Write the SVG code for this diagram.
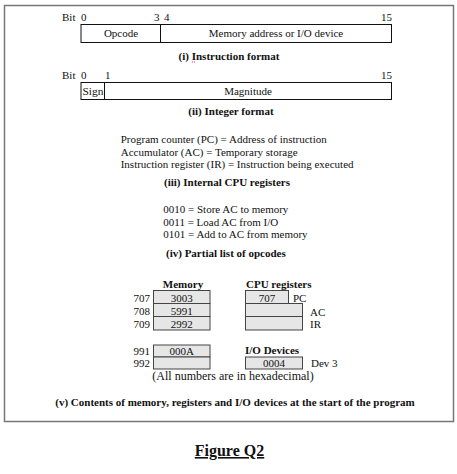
<svg xmlns="http://www.w3.org/2000/svg" width="457" height="474" viewBox="0 0 457 474">
<style>
text{font-family:"Liberation Serif","Times New Roman",serif;font-size:11px;fill:#111}
.b{font-weight:bold}
.c{text-anchor:middle}
.r{text-anchor:end}
.fld{fill:#fff;stroke:#111;stroke-width:1}
.cell{fill:#e6e6e6;stroke:#444;stroke-width:1}
</style>
<rect x="4.5" y="5.5" width="449" height="416" fill="#fff" stroke="#777" stroke-width="1.5"/>

<g id="instruction-format">
<text x="62" y="21">Bit</text>
<text x="81" y="21">0</text>
<text x="154" y="21">3</text>
<text x="164" y="21">4</text>
<text x="392" y="21" class="r">15</text>
<rect x="81" y="24.5" width="79.5" height="18" class="fld"/>
<rect x="160.5" y="24.5" width="231" height="18" class="fld"/>
<text x="121" y="37" class="c">Opcode</text>
<text x="276" y="37" class="c">Memory address or I/O device</text>
<text x="229" y="60" class="c b">(i) Instruction format</text>
<line x1="192" y1="62" x2="195" y2="62" stroke="#d33" stroke-width="1" stroke-dasharray="1,1"/>
</g>

<g id="integer-format">
<text x="62" y="79">Bit</text>
<text x="81" y="79">0</text>
<text x="105" y="79">1</text>
<text x="392" y="79" class="r">15</text>
<rect x="81" y="82.5" width="23.5" height="17" class="fld"/>
<rect x="104.5" y="82.5" width="287" height="17" class="fld"/>
<text x="82.5" y="95" textLength="21" lengthAdjust="spacingAndGlyphs">Sign</text>
<text x="248" y="95" class="c">Magnitude</text>
<text x="231" y="115" class="c b">(ii) Integer format</text>
</g>

<g id="cpu-registers-desc">
<text x="120.7" y="143">Program counter (PC) = Address of instruction</text>
<text x="120.7" y="155.5">Accumulator (AC) = Temporary storage</text>
<text x="120.7" y="168">Instruction register (IR) = Instruction being executed</text>
<text x="164" y="186" class="b">(iii) Internal CPU registers</text>
</g>

<g id="opcodes">
<text x="163.3" y="213">0010 = Store AC to memory</text>
<text x="163.3" y="225.5">0011 = Load AC from I/O</text>
<text x="163.3" y="238">0101 = Add to AC from memory</text>
<text x="166" y="257" class="b">(iv) Partial list of opcodes</text>
</g>

<g id="memory">
<text x="183" y="288" class="c b">Memory</text>
<rect x="153.5" y="290.5" width="56.5" height="13" class="cell"/>
<rect x="153.5" y="303.5" width="56.5" height="13" class="cell"/>
<rect x="153.5" y="316.5" width="56.5" height="13.5" class="cell"/>
<text x="150" y="301.5" class="r">707</text>
<text x="150" y="314.5" class="r">708</text>
<text x="150" y="327.5" class="r">709</text>
<text x="181.7" y="301.5" class="c">3003</text>
<text x="181.7" y="314.5" class="c">5991</text>
<text x="181.7" y="327.5" class="c">2992</text>
<rect x="153.5" y="345" width="56.5" height="12" class="cell"/>
<rect x="153.5" y="357" width="56.5" height="12" class="cell"/>
<text x="150" y="355" class="r">991</text>
<text x="150" y="367" class="r">992</text>
<text x="181.7" y="355" class="c">000A</text>
</g>

<g id="cpu-registers">
<text x="246" y="288" class="b">CPU registers</text>
<rect x="245.5" y="290.5" width="43" height="13" class="cell"/>
<text x="267" y="301.5" class="c">707</text>
<text x="293" y="302">PC</text>
<rect x="245.5" y="303.5" width="57" height="13" class="cell"/>
<text x="310" y="315.5">AC</text>
<rect x="245.5" y="316.5" width="57" height="13.5" class="cell"/>
<text x="310" y="327.5">IR</text>
</g>

<g id="io-devices">
<text x="245" y="354" class="b">I/O Devices</text>
<rect x="245.5" y="357" width="57" height="12" class="cell"/>
<text x="274" y="367" class="c">0004</text>
<text x="311" y="367">Dev 3</text>
</g>

<g id="connectors"></g>

<text x="233" y="380" class="c" style="font-size:12px">(All numbers are in hexadecimal)</text>
<text x="235" y="406" class="c b">(v) Contents of memory, registers and I/O devices at the start of the program</text>
<text x="229.5" y="456" class="c b" style="font-size:16px;text-decoration:underline">Figure Q2</text>
</svg>
